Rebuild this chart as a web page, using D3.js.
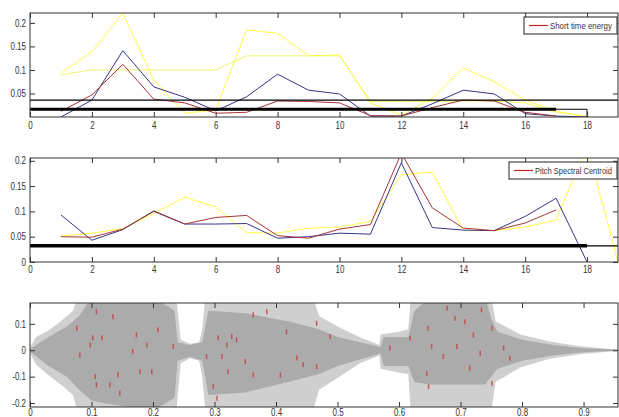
<!DOCTYPE html>
<html>
<head>
<meta charset="utf-8">
<script src="https://cdn.jsdelivr.net/npm/d3@7"></script>
<style>
  body { margin: 0; background: #fff; }
  svg text { font-family: "Liberation Sans", Arial, sans-serif; font-size: 10px; fill: #333; }
</style>
</head>
<body>
<div id="chart"></div>
<script>
// ---- data ----
var frames = d3.range(1, 20);   // frame index 1..19

// panel 1: short time energy
var energyRed    = [0.012, 0.047, 0.112, 0.038, 0.030, 0.008, 0.010, 0.034, 0.033, 0.030, 0.003, 0.002, 0.020, 0.036, 0.034, 0.010, 0.002];
var energyBlue   = [0.000, 0.036, 0.141, 0.064, 0.042, 0.013, 0.043, 0.091, 0.057, 0.049, 0.002, 0.002, 0.028, 0.057, 0.049, 0.007, 0.002, 0.000];
var energyYellow = [0.093, 0.139, 0.220, 0.079, 0.008, 0.015, 0.185, 0.178, 0.130, 0.132, 0.030, 0.004, 0.040, 0.104, 0.075, 0.036, 0.012, 0.001];
var energyPale   = [0.090, 0.100, 0.100, 0.100, 0.100, 0.100, 0.130, 0.130, 0.130, 0.130, 0.033, 0.033, 0.033, 0.034, 0.034, 0.030, 0.010, 0.001];
var energyThinLimit  = 0.036;
var energyThickLimit = 0.0165;

// panel 2: pitch spectral centroid
var pitchRed    = [0.050, 0.049, 0.065, 0.100, 0.075, 0.088, 0.092, 0.052, 0.047, 0.065, 0.074, 0.215, 0.107, 0.067, 0.062, 0.077, 0.103];
var pitchBlue   = [0.093, 0.043, 0.064, 0.101, 0.075, 0.075, 0.076, 0.047, 0.050, 0.057, 0.055, 0.196, 0.068, 0.063, 0.062, 0.090, 0.126, 0.000];
var pitchYellow = [0.051, 0.057, 0.066, 0.096, 0.128, 0.109, 0.058, 0.057, 0.067, 0.069, 0.080, 0.172, 0.178, 0.062, 0.062, 0.069, 0.083, 0.230, 0.000];
var pitchLimit = 0.032;

// panel 3: waveform envelope (time in s)
var waveT     = [0, 0.01, 0.03, 0.05, 0.07, 0.077, 0.238, 0.245, 0.26, 0.275, 0.28, 0.285, 0.46, 0.47, 0.5, 0.537, 0.568, 0.57, 0.6, 0.615, 0.619, 0.75, 0.757, 0.797, 0.845, 0.894, 0.943, 0.955];
var waveUpper = [0.01, 0.05, 0.075, 0.11, 0.15, 0.2, 0.2, 0.04, 0.025, 0.03, 0.08, 0.2, 0.2, 0.13, 0.09, 0.048, 0.02, 0.06, 0.07, 0.08, 0.2, 0.2, 0.11, 0.06, 0.033, 0.015, 0.005, 0.004];
var waveLower = [-0.01, -0.055, -0.095, -0.13, -0.17, -0.23, -0.23, -0.05, -0.03, -0.04, -0.1, -0.23, -0.23, -0.15, -0.105, -0.048, -0.02, -0.07, -0.085, -0.09, -0.23, -0.23, -0.12, -0.065, -0.032, -0.015, -0.005, -0.004];
var coreT     = [0, 0.03, 0.06, 0.08, 0.1, 0.12, 0.2, 0.235, 0.24, 0.26, 0.28, 0.29, 0.35, 0.42, 0.47, 0.5, 0.57, 0.575, 0.615, 0.625, 0.65, 0.74, 0.75, 0.76, 0.8, 0.85, 0.9, 0.955];
var coreUpper = [0.005, 0.05, 0.09, 0.13, 0.2, 0.2, 0.2, 0.15, 0.03, 0.02, 0.03, 0.15, 0.14, 0.11, 0.08, 0.05, 0.012, 0.05, 0.05, 0.15, 0.2, 0.2, 0.12, 0.07, 0.04, 0.02, 0.008, 0.002];
var coreLower = [-0.005, -0.06, -0.1, -0.15, -0.19, -0.2, -0.23, -0.18, -0.04, -0.025, -0.04, -0.17, -0.16, -0.12, -0.09, -0.06, -0.012, -0.06, -0.06, -0.12, -0.13, -0.13, -0.1, -0.07, -0.04, -0.02, -0.008, -0.002];
var redMarkT = [0.108, 0.135, 0.102, 0.117, 0.098, 0.076, 0.081, 0.106, 0.108, 0.13, 0.143, 0.146, 0.167, 0.179, 0.198, 0.208, 0.19, 0.173, 0.233,
                0.287, 0.32, 0.328, 0.336, 0.306, 0.35, 0.363, 0.363, 0.385, 0.407, 0.417, 0.434, 0.444, 0.312, 0.322, 0.298, 0.304,
                0.466, 0.466, 0.488, 0.585, 0.618, 0.647, 0.653, 0.645, 0.672, 0.691, 0.707, 0.694, 0.715, 0.732, 0.721, 0.751, 0.751, 0.77, 0.78, 0.678, 0.734, 0.648];
var redMarkV = [0.146, 0.127, 0.047, 0.047, 0.02, 0.084, -0.018, -0.1, -0.131, -0.131, -0.093, -0.162, -0.005, -0.081, -0.081, 0.077, 0.02, 0.058, 0.014,
                -0.024, 0.02, 0.052, 0.039, 0.047, -0.043, -0.094, 0.134, 0.146, -0.094, 0.07, -0.029, -0.055, -0.024, -0.081, -0.138, -0.182,
                0.102, -0.062, 0.052, 0.008, 0.045, 0.083, 0.014, -0.087, -0.024, 0.121, 0.108, 0.014, -0.068, -0.011, 0.058, 0.083, -0.125, 0.008, -0.03, 0.159, 0.153, -0.138];

var frameTicks = d3.range(0, 19, 2);
var energyTicks = [0.05, 0.1, 0.15, 0.2];
var pitchTicks = [0, 0.05, 0.1, 0.15, 0.2];
var timeTicks = [0, 0.1, 0.2, 0.3, 0.4, 0.5, 0.6, 0.7, 0.8, 0.9];
var waveTicks = [-0.2, -0.1, 0, 0.1];

// ---- layout ----
var width = 619, height = 417,
    left = 30, right = 618, tickLen = 5,
    narrow = 0.8;   // squeeze text like the narrow MATLAB font

var svg = d3.select('#chart').append('svg')
    .attr('width', width)
    .attr('height', height);

function squeeze(sel) {
    sel.each(function() {
        var len = this.getComputedTextLength();
        if (len > 0) d3.select(this).attr('textLength', len * narrow).attr('lengthAdjust', 'spacingAndGlyphs');
    });
}

function panel(id, top, bottom, xDomain, yDomain, xTicks, yTicks, labelPad) {
    var x = d3.scaleLinear().domain(xDomain).range([left, right]),
        y = d3.scaleLinear().domain(yDomain).range([bottom, top]);

    svg.append('clipPath').attr('id', 'clip-' + id)
        .append('rect')
        .attr('x', left).attr('y', top)
        .attr('width', right - left).attr('height', bottom - top);

    var g = svg.append('g').attr('class', 'panel');
    var plot = g.append('g').attr('clip-path', 'url(#clip-' + id + ')');

    return { x: x, y: y, g: g, plot: plot, top: top, bottom: bottom, xTicks: xTicks, yTicks: yTicks, labelPad: labelPad };
}

function frame(p) {
    // MATLAB style box with inward ticks
    var fmt = function(d) { return String(+d.toFixed(3)); };
    var bx = p.g.append('g').attr('transform', 'translate(0,' + p.bottom + ')')
        .call(d3.axisBottom(p.x).tickValues(p.xTicks).tickSize(-tickLen).tickPadding(p.labelPad).tickFormat(fmt));
    var tx = p.g.append('g').attr('transform', 'translate(0,' + p.top + ')')
        .call(d3.axisTop(p.x).tickValues(p.xTicks).tickSize(-tickLen).tickFormat(''));
    var ly = p.g.append('g').attr('transform', 'translate(' + left + ',0)')
        .call(d3.axisLeft(p.y).tickValues(p.yTicks).tickSize(-tickLen).tickPadding(4).tickFormat(fmt));
    var ry = p.g.append('g').attr('transform', 'translate(' + right + ',0)')
        .call(d3.axisRight(p.y).tickValues(p.yTicks).tickSize(-tickLen).tickFormat(''));
    [bx, tx, ly, ry].forEach(function(a) {
        a.select('.domain').remove();
        a.selectAll('line').attr('stroke', '#333');
        a.selectAll('text').attr('fill', '#333')
            .style('font-family', '"Liberation Sans", Arial, sans-serif')
            .style('font-size', '10px')
            .call(squeeze);
    });
    p.g.append('rect')
        .attr('x', left).attr('y', p.top)
        .attr('width', right - left).attr('height', p.bottom - p.top)
        .attr('fill', 'none').attr('stroke', '#333').attr('stroke-width', 1);
}

function series(p, values, color, w) {
    var line = d3.line()
        .x(function(d, i) { return p.x(frames[i]); })
        .y(function(d) { return p.y(d); });
    p.plot.append('path')
        .datum(values)
        .attr('d', line)
        .attr('fill', 'none')
        .attr('stroke', color)
        .attr('stroke-width', w || 1);
}

function hline(p, v, x0, x1, w) {
    p.plot.append('line')
        .attr('x1', p.x(x0)).attr('x2', p.x(x1))
        .attr('y1', p.y(v)).attr('y2', p.y(v))
        .attr('stroke', '#000').attr('stroke-width', w);
}

function legend(p, x0, x1, label) {
    var lg = p.g.append('g');
    lg.append('rect')
        .attr('x', x0).attr('y', p.top + 4)
        .attr('width', x1 - x0 - 1).attr('height', 17)
        .attr('fill', '#fff').attr('stroke', '#222');
    lg.append('line')
        .attr('x1', x0 + 5).attr('x2', x0 + 24)
        .attr('y1', p.top + 12.5).attr('y2', p.top + 12.5)
        .attr('stroke', '#c02828').attr('stroke-width', 1.2);
    // narrow text: scale the label horizontally to fit the box
    var t = lg.append('text')
        .style('font-size', '9.5px')
        .text(label);
    var w = t.node().getComputedTextLength(),
        k = Math.min(1, (x1 - x0 - 32) / w);
    t.attr('transform', 'translate(' + (x0 + 26) + ',' + (p.top + 16) + ') scale(' + k + ',1)');
}

// ---- panel 1 ----
var p1 = panel('p1', 13, 117, [0, 19], [0, 0.221], frameTicks, energyTicks, 5);
series(p1, energyPale, '#f3f36e');
series(p1, energyYellow, '#ffff48');
series(p1, energyBlue, '#34348c');
series(p1, energyRed, '#a83434');
hline(p1, energyThinLimit, 0, 19, 1.3);
hline(p1, energyThickLimit, 0, 17, 3);
p1.plot.append('path')
    .attr('d', d3.line()([[p1.x(0), p1.y(energyThickLimit)], [p1.x(18), p1.y(energyThickLimit)], [p1.x(18), p1.y(0)]]))
    .attr('fill', 'none').attr('stroke', '#000').attr('stroke-width', 1);
frame(p1);
legend(p1, 524, 618, 'Short time energy');

// ---- panel 2 ----
var p2 = panel('p2', 158, 262, [0, 19], [0, 0.2055], frameTicks, pitchTicks, 3.5);
series(p2, pitchYellow, '#ffff48');
series(p2, pitchBlue, '#34348c');
series(p2, pitchRed, '#a83434');
hline(p2, pitchLimit, 0, 19, 1.3);
hline(p2, pitchLimit, 0, 18, 3.5);
frame(p2);
legend(p2, 509, 618, 'Pitch Spectral Centroid');

// ---- panel 3 ----
var p3 = panel('p3', 303, 407, [0, 0.956], [-0.215, 0.179], timeTicks, waveTicks, 2);
var outer = d3.area()
    .x(function(d, i) { return p3.x(waveT[i]); })
    .y0(function(d, i) { return p3.y(waveLower[i]); })
    .y1(function(d) { return p3.y(d); });
var inner = d3.area()
    .x(function(d, i) { return p3.x(coreT[i]); })
    .y0(function(d, i) { return p3.y(coreLower[i]); })
    .y1(function(d) { return p3.y(d); });
p3.plot.append('path').datum(waveUpper).attr('d', outer).attr('fill', '#cfcfcf');
p3.plot.append('path').datum(coreUpper).attr('d', inner).attr('fill', '#ababab');
p3.plot.append('line')
    .attr('x1', p3.x(0)).attr('x2', p3.x(0.956))
    .attr('y1', p3.y(0)).attr('y2', p3.y(0))
    .attr('stroke', '#ababab').attr('stroke-width', 1);
p3.plot.selectAll('rect.mark')
    .data(redMarkT)
    .enter().append('rect')
    .attr('class', 'mark')
    .attr('x', function(d) { return p3.x(d) - 0.75; })
    .attr('y', function(d, i) { return p3.y(redMarkV[i]) - 2.5; })
    .attr('width', 1.5)
    .attr('height', 5)
    .attr('fill', '#c4444c')
    .attr('opacity', 0.85);
frame(p3);
</script>
</body>
</html>
